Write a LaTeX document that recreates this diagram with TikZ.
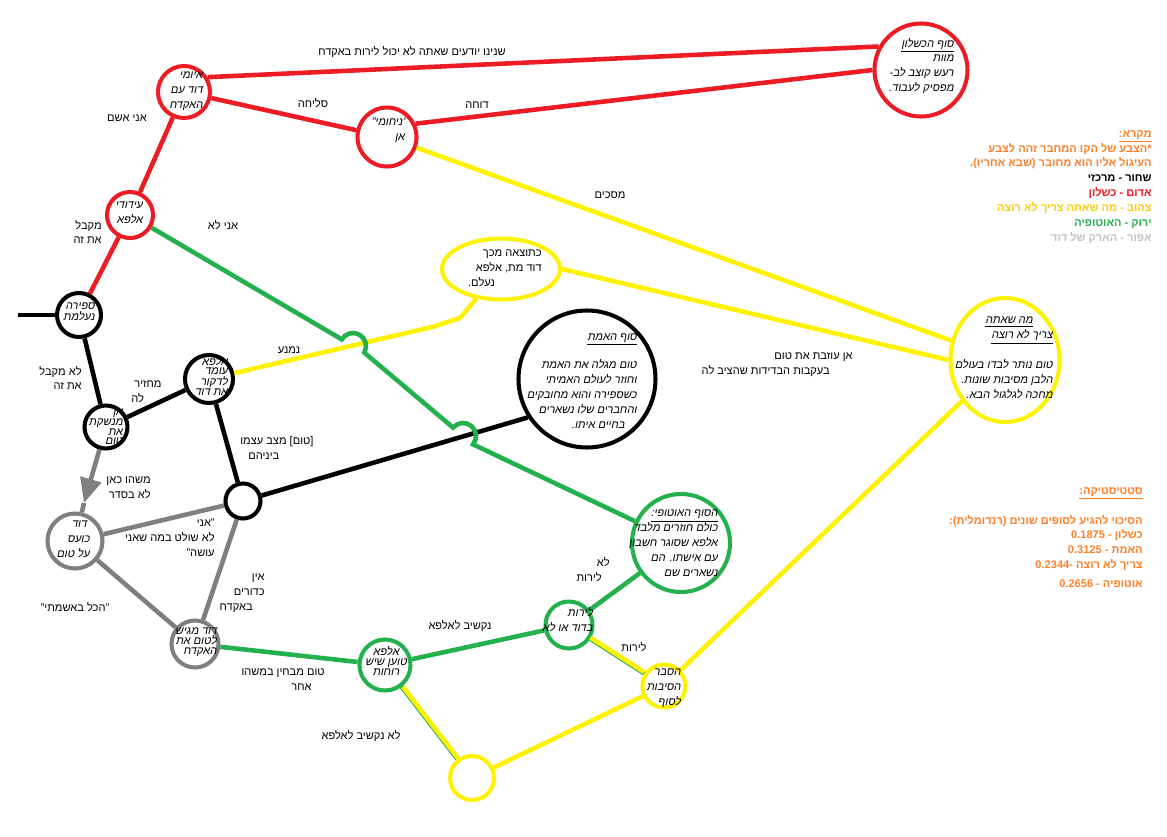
\documentclass[tikz,border=0pt]{standalone}
\usepackage{fontspec}
\setmainfont[Script=Hebrew]{Liberation Sans}
\newfontfamily\slantfont[Script=Hebrew,FakeSlant=0.2]{Liberation Sans}
\TeXXeTstate=1
\usepackage{tikz}
\usetikzlibrary{calc,shapes.geometric,arrows.meta}
\definecolor{failred}{RGB}{237,28,36}
\definecolor{mustyellow}{RGB}{255,242,0}
\definecolor{utopgreen}{RGB}{34,177,76}
\definecolor{arcgray}{RGB}{127,127,127}
\definecolor{keyorange}{RGB}{255,127,39}
\definecolor{keygold}{RGB}{255,201,14}
\definecolor{keygray}{RGB}{195,195,195}
\newcommand{\he}[1]{\beginR#1\endR}
\newcommand{\lblsize}{\fontsize{6.3}{8.5}\selectfont}
\tikzset{ring/.style={circle,draw,line width=2.3pt,minimum size=#1*0.02cm,inner sep=0pt},
  oval/.style={ellipse,draw,line width=2.3pt,inner sep=0pt},
  link/.style={line width=2.6pt},
  lbl/.style={inner sep=0pt,font=\lblsize},
  inside/.style={inner sep=0pt,font=\slantfont\lblsize,align=right},
  packed/.style={inner sep=0pt,font=\slantfont\fontsize{6.3}{5.5}\selectfont,align=right}}

\begin{document}
\begin{tikzpicture}[x=0.02cm,y=-0.02cm]

\fill[white] (0,0) rectangle (1167,836);
\useasboundingbox (0,0) rectangle (1167,836);

% Nodes
\node[ring=52,failred] (threat) at (184,92) {};
\node[ring=59,failred] (comfort) at (387,137) {};
\node[ring=93,failred] (fail-end) at (921,70) {};
\node[ring=46,failred] (support) at (130,215) {};
\node[ring=44] (sphere) at (79,315) {};
\node[ring=43] (kiss) at (106,427) {};
\node[ring=48] (stab) at (209,379) {};
\node[ring=137] (truth-end) at (587,379) {};
\node[ring=35] (split) at (243,501) {};
\node[ring=55,arcgray] (angry) at (75,541) {};
\node[ring=47,arcgray] (gun) at (195,644) {};
\node[ring=98,utopgreen] (utopia-end) at (681,543) {};
\node[ring=47,utopgreen] (shoot) at (569,625) {};
\node[ring=51,utopgreen] (ghosts) at (385,665) {};
\node[ring=43,mustyellow] (explain) at (664,686) {};
\node[ring=44,mustyellow] (empty) at (472,778) {};
\node[oval,mustyellow,minimum width=2.36cm,minimum height=1.22cm] (result) at (501,269) {};
\node[oval,mustyellow,minimum width=2.18cm,minimum height=2.48cm] (need-end) at (1005,360) {};

% Free ends and bends
\coordinate (stub) at (18,315);
\coordinate (bend-a) at (432,327);
\coordinate (bend-b) at (460,318);
\coordinate (arrow-tip) at (84,503);
\coordinate (hop-a) at (341.8,339.4);
\coordinate (hop-b) at (453.1,427.6);

% The red lines
\draw[link,failred] (threat.32) -- (fail-end.151);
\draw[link,failred] (threat) -- (comfort);
\draw[link,failred] (comfort.25) -- (fail-end.180);
\draw[link,failred] (support) -- (threat);
\draw[link,failred] (sphere) -- (support);

% The black lines
\draw[link] (stub) -- (sphere);
\draw[link] (sphere) -- (kiss);
\draw[link] (kiss) -- (stab);
\draw[link] (stab) -- (split);
\draw[link] (split) -- (truth-end.213);

% The yellow lines (the two lower ones keep a green edge)
\draw[link,mustyellow] (comfort) -- (need-end);
\draw[link,mustyellow] (result.east) -- (need-end.180);
\draw[link,mustyellow] (stab) -- (bend-a) -- (bend-b) -- (result);
\draw[link,utopgreen] (shoot) -- (explain);
\draw[link,mustyellow,transform canvas={yshift=0.7pt}] (shoot) -- (explain);
\draw[link,utopgreen] (ghosts) -- (empty);
\draw[link,mustyellow,transform canvas={xshift=0.7pt}] (ghosts) -- (empty);
\draw[link,mustyellow] (empty) -- (explain);
\draw[link,mustyellow] (explain) -- (need-end);

% The grey lines
\draw[link,arcgray,-{Triangle[length=14pt,width=12pt]}] (kiss) -- (arrow-tip);
\draw[link,arcgray] (arrow-tip) -- (angry);
\draw[link,arcgray] (split) -- (angry);
\draw[link,arcgray] (split) -- (gun);
\draw[link,arcgray] (angry) -- (gun);

% The green lines (hopping over the crossings)
\draw[link,utopgreen] (support) -- (hop-a) arc[start angle=149.6,end angle=-30.4,radius=0.26cm]
  -- (hop-b) arc[start angle=139.9,end angle=-40.1,radius=0.26cm] -- (utopia-end);
\draw[link,utopgreen] (gun) -- (ghosts);
\draw[link,utopgreen] (ghosts) -- (shoot);
\draw[link,utopgreen] (shoot) -- (utopia-end);

% Texts in the circles
\node[inside,anchor=east] (threat-txt) at (203,91) {\he{איומי}\\\he{דוד עם}\\\he{האקדח}};
\node[inside,anchor=east] (comfort-txt) at (405,130) {\he{'ניחומי"}\\\he{אן}};
\node[inside,anchor=east] (fail-txt) at (954,66) {\underline{\he{סוף הכשלון}}\\\he{מוות}\\\he{רעש קוצב לב-}\\\he{מפסיק לעבוד.}};
\node[inside,anchor=east] (support-txt) at (143,213) {\he{עידודי}\\\he{אלפא}};
\node[packed,font=\slantfont\fontsize{6.3}{6.2}\selectfont,anchor=east] (sphere-txt) at (95,312) {\he{ספירה}\\\he{נעלמת}};
\node[packed,anchor=east] (kiss-txt) at (123,427) {\he{אן}\\\he{מנשקת}\\\he{את}\\\he{טום}};
\node[packed,font=\slantfont\fontsize{6.3}{4.9}\selectfont,anchor=east] (stab-txt) at (228,376) {\he{אלפא}\\\he{עומד}\\\he{לדקור}\\\he{את דוד}};
\node[inside,anchor=east] (truth-txt) at (637,381) {\underline{\he{סוף האמת}}\\[7.9pt]\he{טום מגלה את האמת}\\\he{וחוזר לעולם האמיתי}\\\he{כשספירה והוא מחובקים}\\\he{והחברים שלו נשארים}\\\he{בחיים איתו.}\hspace*{6.8pt}};
\node[inside,anchor=east] (angry-txt) at (90,539) {\he{דוד}\hspace*{1.7pt}\\\he{כועס}\\\he{על טום}};
\node[packed,font=\slantfont\fontsize{6.3}{5.7}\selectfont,anchor=east] (gun-txt) at (217,642) {\he{דוד מגיש}\\\he{לטום את}\\\he{האקדח}};
\node[inside,anchor=east] (utopia-txt) at (718,543) {\underline{\he{הסוף האוטופי:}}\\\he{כולם חוזרים מלבד}\\\he{אלפא שסוגר חשבון}\\\he{עם אישתו. הם}\\\he{נשארים שם}};
\node[inside,anchor=east] (shoot-txt) at (593,620) {\he{לירות}\\\he{בדוד או לא}};
\node[packed,align=center] (ghosts-txt) at (386,661) {\he{אלפא}\\\he{טוען שיש}\\\he{רוחות}};
\node[inside,anchor=east] (explain-txt) at (681,688) {\he{הסבר}\\\he{הסיבות}\\\he{לסוף}};
\node[lbl,align=right,anchor=east] (result-txt) at (542,268) {\he{כתוצאה מכך}\\\he{דוד מת, אלפא}\hspace*{9.6pt}\\\he{נעלם.}\hspace*{26.6pt}};
\node[inside,anchor=east] (need-txt) at (1053,358) {\underline{\he{מה שאתה}}\hspace*{11.3pt}\\\underline{\he{צריך לא רוצה}}\hspace*{11.3pt}\\[8.5pt]\he{טום נותר לבדו בעולם}\\\he{הלבן מסיבות שונות.}\\\he{מחכה לגלגול הבא.}};

% Connector labels
\node[lbl] (lbl-know) at (412,52) {\he{שנינו יודעים שאתה לא יכול לירות באקדח}};
\node[lbl] (lbl-sorry) at (313,103) {\he{סליחה}};
\node[lbl] (lbl-reject) at (477,105) {\he{דוחה}};
\node[lbl] (lbl-guilty) at (127,118) {\he{אני אשם}};
\node[lbl,align=right,anchor=east] (lbl-accept) at (102,232) {\he{מקבל}\\\he{את זה}};
\node[lbl] (lbl-notme) at (223,225) {\he{אני לא}};
\node[lbl] (lbl-agree) at (610,195) {\he{מסכים}};
\node[lbl] (lbl-avoid) at (289,350) {\he{נמנע}};
\node[lbl,align=right,anchor=east] (lbl-refuse) at (82,378) {\he{לא מקבל}\\\he{את זה}};
\node[lbl,align=left,anchor=west] (lbl-return) at (131,392) {\hspace*{1.7pt}\he{מחזיר}\\\he{לה}};
\node[lbl,align=left,anchor=west] (lbl-between) at (240,448) {\he{[טום] מצב עצמו}\\\hspace*{4.5pt}\he{ביניהם}};
\node[lbl,align=right,anchor=east] (lbl-wrong) at (151,488) {\he{משהו כאן}\\\he{לא בסדר}};
\node[lbl,align=right,anchor=east] (lbl-control) at (215,538) {\he{"אני}\\\he{לא שולט במה שאני}\\\he{עושה"}};
\node[lbl,align=right,anchor=east] (lbl-nobullets) at (265,593) {\he{אין}\\\he{כדורים}\\\he{באקדח}\hspace*{6.8pt}};
\node[lbl] (lbl-myfault) at (75,607) {\he{"הכל באשמתי"}};
\node[lbl,align=right,anchor=east] (lbl-notice) at (325,680) {\he{טום מבחין במשהו}\\\he{אחר}\hspace*{7.4pt}};
\node[lbl] (lbl-listen) at (460,626) {\he{נקשיב לאלפא}};
\node[lbl,align=right,anchor=east] (lbl-noshoot) at (610,570) {\he{לא}\\\he{לירות}\hspace*{4.5pt}};
\node[lbl] (lbl-shoot) at (634,647) {\he{לירות}};
\node[lbl] (lbl-nolisten) at (361,736) {\he{לא נקשיב לאלפא}};
\node[lbl,align=right,anchor=east] (lbl-leaves) at (853,365) {\he{אן עוזבת את טום}\\\he{בעקבות הבדידות שהציב לה}\hspace*{13pt}};

% Key
\node[lbl,font=\bfseries\lblsize,align=right,anchor=north east,text=keyorange] (key) at (1152,130) {\underline{\he{מקרא:}}\\\he{*הצבע של הקו המחבר זהה לצבע}\\\he{העיגול אליו הוא מחובר (שבא אחריו).}\hspace*{3.4pt}\\\textcolor{black}{\he{שחור - מרכזי}}\\\textcolor{failred}{\he{אדום - כשלון}}\\\textcolor{keygold}{\he{צהוב - מה שאתה צריך לא רוצה}}\\\textcolor{utopgreen}{\he{ירוק - האוטופיה}}\\\textcolor{keygray}{\he{אפור - הארק של דוד}}};

% Statistics
\node[lbl,font=\bfseries\lblsize,align=right,anchor=north east,text=keyorange] (stats) at (1143,487) {\underline{\he{סטטיסטיקה:}}\\[8.5pt]\he{הסיכוי להגיע לסופים שונים (רנדומלית):}\\\he{כשלון - \beginL0.1875\endL}\\\he{האמת - \beginL0.3125\endL}\\\he{צריך לא רוצה -\beginL0.2344\endL}\\[2pt]\he{אוטופיה - \beginL0.2656\endL}};

\end{tikzpicture}
\end{document}
